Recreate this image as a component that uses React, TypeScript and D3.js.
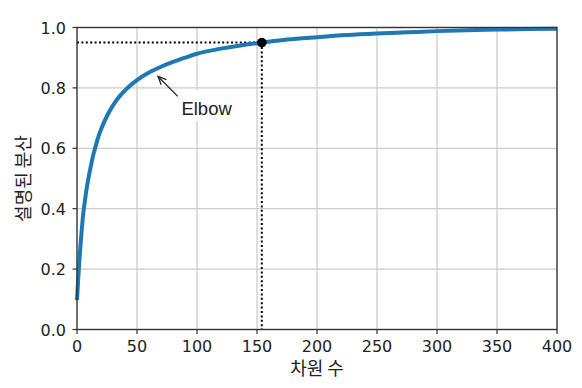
import * as d3 from 'd3';

// cumulative explained variance
const dims = [0, 1, 2, 3, 4, 5, 6, 7, 8, 9, 10, 12, 14, 16, 18, 20, 25, 30, 35, 40, 45, 50, 60, 70, 80, 90, 100, 120, 140, 154, 175, 200, 225, 250, 275, 300, 325, 350, 375, 400];
const cumVariance = [0.097, 0.168, 0.23, 0.284, 0.333, 0.376, 0.409, 0.438, 0.466, 0.489, 0.51, 0.55, 0.585, 0.614, 0.64, 0.662, 0.707, 0.742, 0.77, 0.792, 0.81, 0.826, 0.851, 0.87, 0.886, 0.9, 0.913, 0.93, 0.943, 0.95, 0.96, 0.968, 0.975, 0.98, 0.984, 0.988, 0.991, 0.993, 0.995, 0.996];

const xTicks = [0, 50, 100, 150, 200, 250, 300, 350, 400];
const yTicks = [0, 0.2, 0.4, 0.6, 0.8, 1.0];

const elbowDim = 154;
const elbowVar = 0.95;
const arrowTip = [67.5, 0.838];
const arrowTail = [84, 0.772];
const labelPos = [87, 0.71];

const W = 582;
const H = 388;
const margin = { top: 27.5, right: 25, bottom: 58.5, left: 77 };

function App() {
    const x = d3.scaleLinear().domain([0, 400]).range([margin.left, W - margin.right]);
    const y = d3.scaleLinear().domain([0, 1]).range([H - margin.bottom, margin.top]);

    const line = d3
        .line<number>()
        .x((d, i) => x(dims[i]))
        .y((d) => y(d))
        .curve(d3.curveMonotoneX);

    const tickFont = "'DejaVu Sans', sans-serif";
    const koFont = "'Noto Sans CJK KR', sans-serif";

    // arrow head
    const tx = x(arrowTip[0]);
    const ty = y(arrowTip[1]);
    const sx = x(arrowTail[0]);
    const sy = y(arrowTail[1]);
    const ang = Math.atan2(ty - sy, tx - sx);
    const hl = 9;
    const spread = 0.42;
    const head = `M${tx - hl * Math.cos(ang - spread)},${ty - hl * Math.sin(ang - spread)}L${tx},${ty}L${tx - hl * Math.cos(ang + spread)},${ty - hl * Math.sin(ang + spread)}`;

    const lx = x(labelPos[0]);
    const ly = y(labelPos[1]);

    return (
        <svg width={W} height={H} style={{ position: 'absolute', left: 0, top: 0, background: '#fff' }}>
            {/* grid */}
            <g stroke="#cccccc" strokeWidth={1.3}>
                {xTicks.map((t) => (
                    <line key={'gx' + t} x1={x(t)} x2={x(t)} y1={y(0)} y2={y(1)} />
                ))}
                {yTicks.map((t) => (
                    <line key={'gy' + t} x1={x(0)} x2={x(400)} y1={y(t)} y2={y(t)} />
                ))}
            </g>

            {/* annotation text box */}
            <rect x={lx - 4} y={ly - 25} width={60} height={31} fill="#fff" />
            <text x={lx} y={ly} fontFamily="'Liberation Sans', Arial, sans-serif" fontSize={18.5} fill="#222">
                Elbow
            </text>
            <line x1={sx} y1={sy} x2={tx} y2={ty} stroke="#222" strokeWidth={1.3} />
            <path d={head} fill="none" stroke="#222" strokeWidth={1.3} />

            {/* dotted guides */}
            <line x1={x(0)} x2={x(elbowDim)} y1={y(elbowVar)} y2={y(elbowVar)} stroke="#000" strokeWidth={2} strokeDasharray="2 2.4" />
            <line x1={x(elbowDim)} x2={x(elbowDim)} y1={y(elbowVar)} y2={y(0)} stroke="#000" strokeWidth={2} strokeDasharray="2 2.4" />

            {/* curve */}
            <path d={line(cumVariance) || ''} fill="none" stroke="#1f77b4" strokeWidth={4} />

            <circle cx={x(elbowDim)} cy={y(elbowVar)} r={4.8} fill="#000" />

            {/* frame */}
            <rect x={x(0)} y={y(1)} width={x(400) - x(0)} height={y(0) - y(1)} fill="none" stroke="#333" strokeWidth={1.3} />

            {/* ticks */}
            <g stroke="#333" strokeWidth={1.2}>
                {xTicks.map((t) => (
                    <line key={'tx' + t} x1={x(t)} x2={x(t)} y1={y(0)} y2={y(0) + 4.5} />
                ))}
                {yTicks.map((t) => (
                    <line key={'ty' + t} x1={x(0) - 4.5} x2={x(0)} y1={y(t)} y2={y(t)} />
                ))}
            </g>
            <g fontFamily={tickFont} fontSize={16} fill="#222">
                {xTicks.map((t) => (
                    <text key={'lx' + t} x={x(t)} y={y(0) + 22} textAnchor="middle">
                        {t}
                    </text>
                ))}
                {yTicks.map((t) => (
                    <text key={'ly' + t} x={x(0) - 11} y={y(t) + 6} textAnchor="end">
                        {d3.format('.1f')(t)}
                    </text>
                ))}
            </g>

            {/* axis labels */}
            <text x={(x(0) + x(400)) / 2} y={375} textAnchor="middle" fontFamily={koFont} fontSize={18} fill="#222">
                차원 수
            </text>
            <text
                transform={`translate(30,${(y(0) + y(1)) / 2}) rotate(-90)`}
                textAnchor="middle"
                fontFamily={koFont}
                fontSize={18}
                fill="#222"
            >
                설명된 분산
            </text>
        </svg>
    );
}

export default App;
